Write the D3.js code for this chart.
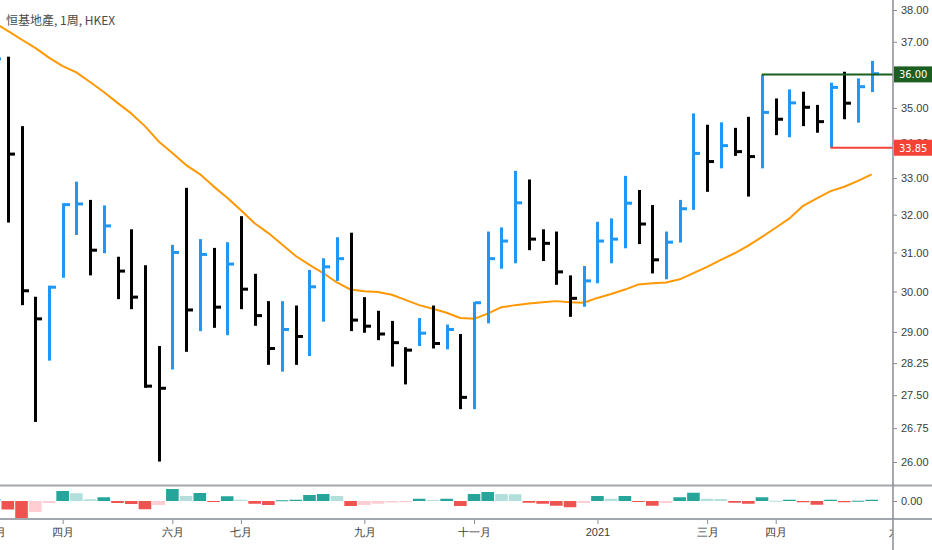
<!DOCTYPE html>
<html lang="zh-Hant">
<head>
<meta charset="UTF-8">
<title>恒基地產, 1周, HKEX</title>
<style>
    body {
        margin: 0;
        background: #fff;
    }

    svg {
        display: block;
        font-family: "Liberation Sans Narrow", "DejaVu Sans Condensed", Roboto, "Noto Sans CJK TC", sans-serif;
    }

    .axis text {
        font-size: 11px;
        fill: #3c3c3c;
    }

    .axis line {
        stroke: #8a8d95;
    }

    .title {
        font-family: "Noto Sans CJK TC", sans-serif;
        font-size: 12px;
        fill: #4a4a4a;
    }

    .level-label {
        font-size: 11px;
        fill: #fff;
    }
</style>
</head>
<body>
<div id="chart"></div>
<script src="https://cdn.jsdelivr.net/npm/d3@7"></script>
<script>
    // weekly bars, HLC (bar start = Monday)
    const weeks = [
        "2020-03-02", "2020-03-09", "2020-03-16", "2020-03-23", "2020-03-30",
        "2020-04-06", "2020-04-13", "2020-04-20", "2020-04-27",
        "2020-05-04", "2020-05-11", "2020-05-18", "2020-05-25",
        "2020-06-01", "2020-06-08", "2020-06-15", "2020-06-22", "2020-06-29",
        "2020-07-06", "2020-07-13", "2020-07-20", "2020-07-27",
        "2020-08-03", "2020-08-10", "2020-08-17", "2020-08-24", "2020-08-31",
        "2020-09-07", "2020-09-14", "2020-09-21", "2020-09-28",
        "2020-10-05", "2020-10-12", "2020-10-19", "2020-10-26",
        "2020-11-02", "2020-11-09", "2020-11-16", "2020-11-23", "2020-11-30",
        "2020-12-07", "2020-12-14", "2020-12-21", "2020-12-28",
        "2021-01-04", "2021-01-11", "2021-01-18", "2021-01-25",
        "2021-02-01", "2021-02-08", "2021-02-15", "2021-02-22",
        "2021-03-01", "2021-03-08", "2021-03-15", "2021-03-22", "2021-03-29",
        "2021-04-05", "2021-04-12", "2021-04-19", "2021-04-26",
        "2021-05-03", "2021-05-10", "2021-05-17", "2021-05-24"
    ];

    const highs = [
        37.20, 36.54, 34.47, 29.87, 30.15,
        32.31, 32.90, 32.40, 32.25,
        30.89, 31.61, 30.67, 28.66,
        31.20, 32.73, 31.35, 31.12, 31.27,
        31.96, 30.45, 29.76, 29.76,
        29.65, 30.55, 30.85, 31.40, 31.52,
        29.86, 29.52, 29.27, 28.63,
        29.34, 29.65, 29.18, 28.95,
        29.74, 31.55, 31.66, 33.20, 32.96,
        31.61, 31.55, 30.41, 30.65,
        31.81, 31.90, 33.06, 32.67,
        32.26, 31.55, 32.40, 34.84,
        34.51, 34.58, 34.42, 34.74, 36.00,
        35.28, 35.55, 35.48, 35.09,
        35.75, 36.08, 35.88, 36.41
    ];

    const lows = [
        35.60, 31.79, 29.66, 26.89, 28.31,
        30.35, 31.46, 30.41, 30.98,
        29.81, 29.56, 27.67, 26.01,
        28.10, 28.52, 29.02, 29.10, 28.92,
        29.56, 29.15, 28.21, 28.05,
        28.21, 28.42, 29.25, 30.27, 29.02,
        28.98, 28.80, 28.17, 27.75,
        28.66, 28.60, 28.58, 27.18,
        27.18, 29.21, 30.58, 30.72, 31.06,
        30.78, 30.17, 29.37, 29.62,
        30.21, 30.72, 31.11, 31.22,
        30.46, 30.31, 31.26, 32.13,
        32.62, 33.27, 33.62, 32.49, 33.27,
        34.21, 34.15, 34.47, 34.28,
        33.85, 34.67, 34.57, 35.47
    ];

    const closes = [
        36.47, 33.67, 30.02, 29.32, 30.11,
        32.27, 32.29, 31.06, 31.70,
        30.52, 29.86, 27.71, 27.66,
        31.00, 29.54, 30.95, 29.61, 30.70,
        30.06, 29.40, 28.60, 29.06,
        28.89, 30.12, 30.63, 30.84, 29.29,
        29.14, 28.95, 28.74, 28.56,
        28.97, 28.72, 29.06, 27.45,
        29.72, 30.84, 31.30, 32.32, 31.35,
        31.24, 30.50, 29.83, 30.27,
        31.30, 31.35, 32.31, 31.75,
        30.81, 31.27, 32.16, 33.69,
        33.46, 33.91, 33.74, 33.60, 34.87,
        34.67, 35.15, 35.02, 34.60,
        35.61, 35.14, 35.63, 36.02
    ];

    // moving average (orange)
    const ma = [
        37.60, 37.34, 37.07, 36.81, 36.51,
        36.25, 36.06, 35.77, 35.47,
        35.15, 34.84, 34.47, 34.03,
        33.70, 33.36, 33.11, 32.77, 32.46,
        32.12, 31.77, 31.51, 31.21,
        30.91, 30.68, 30.47, 30.23, 30.05,
        30.01, 29.99, 29.92, 29.79,
        29.66, 29.57, 29.47, 29.34,
        29.32, 29.45, 29.61, 29.66, 29.70,
        29.73, 29.76, 29.73, 29.72,
        29.84, 29.94, 30.05, 30.18,
        30.21, 30.23, 30.31, 30.47,
        30.63, 30.81, 30.98, 31.18, 31.41,
        31.65, 31.90, 32.24, 32.44,
        32.64, 32.76, 32.92, 33.10
    ];

    // lower pane histogram
    const hist = [
        0.04, -0.17, -0.35, -0.22, -0.04,
        0.20, 0.155, 0.035, 0.075,
        -0.04, -0.06, -0.165, -0.08,
        0.24, 0.10, 0.16, -0.02, 0.095,
        0.025, -0.055, -0.08, 0.015,
        0.025, 0.12, 0.14, 0.10, -0.10,
        -0.08, -0.055, -0.03, -0.025,
        0.045, 0.02, 0.045, -0.10,
        0.14, 0.18, 0.14, 0.135, -0.035,
        -0.055, -0.095, -0.125, -0.04,
        0.10, 0.045, 0.10, -0.015,
        -0.095, -0.04, 0.075, 0.165,
        0.045, 0.04, -0.035, -0.055, 0.075,
        0.006, 0.025, -0.025, -0.075,
        0.025, -0.025, 0.006, 0.025
    ];

    const priceTicks = [26, 26.75, 27.5, 28.25, 29, 30, 31, 32, 33, 34, 35, 36, 37, 38];
    const oscTicks = [0];

    const monthTicks = ["2020-03-02", "2020-04-06", "2020-06-01", "2020-07-06", "2020-09-07",
        "2020-11-02", "2021-01-04", "2021-03-01", "2021-04-05", "2021-06-07"];
    const monthLabels = ["三月", "四月", "六月", "七月", "九月", "十一月", "2021", "三月", "四月", "六月"];

    const levelPrices = [36.00, 33.85];
    const levelStarts = ["2021-03-29", "2021-05-03"];

    // styles
    const upColor = "#2196f3";
    const downColor = "#000000";
    const maColor = "#ff9800";
    const levelColors = ["#1b5e20", "#f44336"];

    const width = 932;
    const height = 550;
    const axisX = 893;
    const mainBottom = 485;
    const oscTop = 486;
    const oscBottom = 519;

    const parse = d3.timeParse("%Y-%m-%d");

    const bars = weeks.map((w, i) => ({
        date: parse(w),
        high: highs[i],
        low: lows[i],
        close: closes[i],
        ma: ma[i],
        hist: hist[i],
        up: i === 0 || closes[i] >= closes[i - 1]
    }));

    const xScale = d3.scaleTime()
        .domain(d3.extent(bars, d => d.date))
        .range([-5.9, 871.7]);
    const step = xScale(bars[1].date) - xScale(bars[0].date);

    const yScale = d3.scaleLog()
        .domain([26, 38])
        .range([462, 10]);

    const yOsc = d3.scaleLinear()
        .domain([-0.36, 0.32])
        .range([oscBottom, oscTop - 1]);

    const svg = d3.select("#chart")
        .append("svg")
        .attr("width", width)
        .attr("height", height);

    const defs = svg.append("defs");
    defs.append("clipPath").attr("id", "clip-main")
        .append("rect").attr("x", 0).attr("y", 0).attr("width", axisX).attr("height", mainBottom);
    defs.append("clipPath").attr("id", "clip-osc")
        .append("rect").attr("x", 0).attr("y", oscTop).attr("width", axisX).attr("height", oscBottom - oscTop);
    defs.append("clipPath").attr("id", "clip-time")
        .append("rect").attr("x", 0).attr("y", oscBottom).attr("width", axisX).attr("height", height - oscBottom);

    // main pane
    const main = svg.append("g").attr("clip-path", "url(#clip-main)");

    main.append("path")
        .datum(bars)
        .attr("fill", "none")
        .attr("stroke", maColor)
        .attr("stroke-width", 2)
        .attr("stroke-linejoin", "round")
        .attr("d", d3.line().x(d => xScale(d.date)).y(d => yScale(d.ma)));

    const barX = d => Math.round(xScale(d.date));

    main.selectAll(".hl")
        .data(bars)
        .join("rect")
        .attr("class", "hl")
        .attr("x", d => barX(d) - 1)
        .attr("width", 3)
        .attr("y", d => yScale(d.high))
        .attr("height", d => yScale(d.low) - yScale(d.high))
        .attr("fill", d => d.up ? upColor : downColor);

    main.selectAll(".cl")
        .data(bars)
        .join("rect")
        .attr("class", "cl")
        .attr("x", d => barX(d) + 1)
        .attr("width", 6)
        .attr("y", d => yScale(d.close) - 1.5)
        .attr("height", 3)
        .attr("fill", d => d.up ? upColor : downColor);

    // horizontal levels
    levelPrices.forEach((p, i) => {
        main.append("line")
            .attr("x1", xScale(parse(levelStarts[i])))
            .attr("x2", axisX)
            .attr("y1", yScale(p))
            .attr("y2", yScale(p))
            .attr("stroke", levelColors[i])
            .attr("stroke-width", 2);
    });

    // title
    svg.append("text")
        .attr("class", "title")
        .attr("x", 6)
        .attr("y", 25)
        .text("恒基地產, 1周, HKEX");

    // lower pane histogram
    const histColor = (i) => {
        const v = hist[i];
        const prev = i > 0 ? hist[i - 1] : 0;
        if (v >= 0) return v >= prev ? "#26a69a" : "#b2dfdb";
        return v < prev ? "#ef5350" : "#ffcdd2";
    };

    svg.append("g")
        .attr("clip-path", "url(#clip-osc)")
        .selectAll("rect")
        .data(bars)
        .join("rect")
        .attr("x", d => xScale(d.date) - step * 0.46)
        .attr("width", step * 0.92)
        .attr("y", d => Math.min(yOsc(d.hist), yOsc(0)))
        .attr("height", d => Math.max(1, Math.abs(yOsc(d.hist) - yOsc(0))))
        .attr("fill", (d, i) => histColor(i));

    // pane separators
    [mainBottom + 0.5, oscBottom].forEach(yy => {
        svg.append("line")
            .attr("x1", 0).attr("x2", width)
            .attr("y1", yy).attr("y2", yy)
            .attr("stroke", "#a3a6ad")
            .attr("stroke-width", 2);
    });

    // time axis
    const xAxis = d3.axisBottom(xScale)
        .tickValues(monthTicks.map(parse))
        .tickFormat((d, i) => monthLabels[i])
        .tickSize(4)
        .tickPadding(4);

    svg.append("g")
        .attr("class", "x axis")
        .attr("clip-path", "url(#clip-time)")
        .append("g")
        .attr("transform", `translate(0, ${oscBottom + 1})`)
        .call(xAxis)
        .call(g => g.select(".domain").remove());

    // price axis; a label covered entirely by a level box is left out
    const yAxis = d3.axisRight(yScale)
        .tickValues(priceTicks)
        .tickFormat(d => levelPrices.includes(d) ? "" : d3.format(".2f")(d))
        .tickSize(4)
        .tickPadding(4);

    svg.append("g")
        .attr("class", "y axis")
        .attr("transform", `translate(${axisX}, 0)`)
        .call(yAxis)
        .call(g => g.select(".domain").remove());

    const oscAxis = d3.axisRight(yOsc)
        .tickValues(oscTicks)
        .tickFormat(d3.format(".2f"))
        .tickSize(4)
        .tickPadding(4);

    svg.append("g")
        .attr("class", "y axis")
        .attr("transform", `translate(${axisX}, 0)`)
        .call(oscAxis)
        .call(g => g.select(".domain").remove());

    svg.append("line")
        .attr("x1", axisX).attr("x2", axisX)
        .attr("y1", 0).attr("y2", height)
        .attr("stroke", "#8a8d95")
        .attr("stroke-width", 1.5);

    // level price labels
    levelPrices.forEach((p, i) => {
        const yy = yScale(p);
        svg.append("rect")
            .attr("x", axisX + 1)
            .attr("y", yy - 8)
            .attr("width", 38)
            .attr("height", 16)
            .attr("fill", levelColors[i]);
        svg.append("text")
            .attr("class", "level-label")
            .attr("x", axisX + 6)
            .attr("y", yy)
            .attr("dy", "0.35em")
            .text(p.toFixed(2));
    });
</script>
</body>
</html>
